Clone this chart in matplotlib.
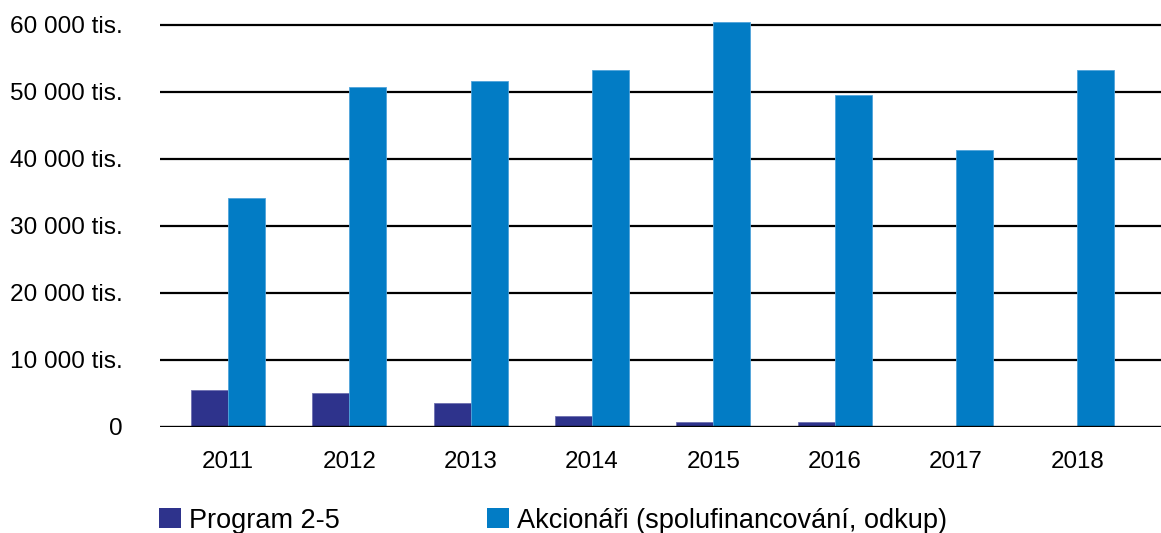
import matplotlib
matplotlib.use("Agg")
import matplotlib.pyplot as plt
import numpy as np
from matplotlib.patches import Patch

years = ["2011", "2012", "2013", "2014", "2015", "2016", "2017", "2018"]
program = [5500, 5050, 3550, 1600, 750, 750, 0, 0]
akcionari = [34200, 50800, 51700, 53300, 60500, 49500, 41300, 53350]
series_names = ["Program 2-5", "Akcionáři (spolufinancování, odkup)"]
yticks = [0, 10000, 20000, 30000, 40000, 50000, 60000]
ytick_labels = ["0", "10 000 tis.", "20 000 tis.", "30 000 tis.", "40 000 tis.", "50 000 tis.", "60 000 tis."]

c_prog = "#2E338C"
c_akc = "#027CC5"

plt.rcParams['font.family'] = ['Liberation Sans', 'DejaVu Sans']
fs_y = 17.6
fs_x = 17.4
fs_leg = 19.5

fig = plt.figure(figsize=(11.61, 5.33), dpi=100)
ax = fig.add_axes([160/1161, 1-426.7/533, 1-160/1161, (426.7-18.3)/533])

x = np.arange(len(years))
w = 0.305
ax.bar(x - w/2, program, w, color=c_prog, edgecolor="#6E70B0", linewidth=0.6, zorder=3)
ax.bar(x + w/2, akcionari, w, color=c_akc, edgecolor="#4FA3DA", linewidth=0.6, zorder=3)

ax.set_xlim(-0.56, 7.69)
ax.set_ylim(0, 61000)
ax.set_yticks(yticks)
ax.set_yticklabels(ytick_labels, fontsize=fs_y)
ax.set_xticks(x)
ax.set_xticklabels(years, fontsize=fs_x)
ax.tick_params(axis='y', length=0, pad=27)
ax.tick_params(axis='x', length=0, pad=17.5)
for lab in ax.get_yticklabels():
    lab.set_horizontalalignment('right')

for v in yticks[1:]:
    ax.axhline(v, color='black', linewidth=1.6, zorder=2)
ax.axhline(0, color='black', linewidth=2.4, zorder=4)

for s in ax.spines.values():
    s.set_visible(False)

h1 = [Patch(facecolor=c_prog, edgecolor='none')]
h2 = [Patch(facecolor=c_akc, edgecolor='none')]
common = dict(frameon=False, fontsize=fs_leg, handlelength=0.8, handleheight=0.8, handletextpad=0.3,
              borderpad=0, borderaxespad=0, loc='center left')
leg1 = fig.legend(h1, [series_names[0]], bbox_to_anchor=(159/1161, 1-520.5/533), **common)
leg2 = fig.legend(h2, [series_names[1]], bbox_to_anchor=(487/1161, 1-520.5/533), **common)

fig.savefig("out.png", dpi=100)
